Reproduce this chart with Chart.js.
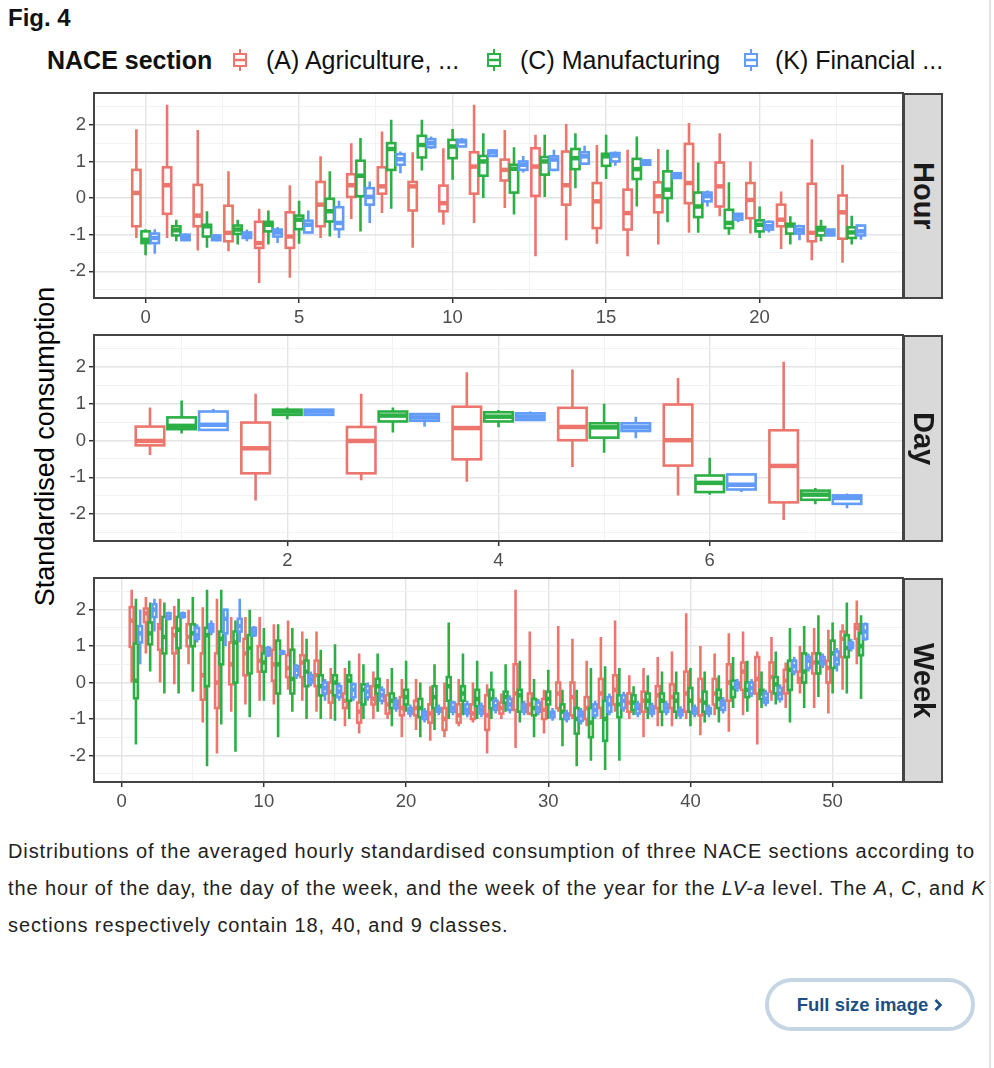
<!DOCTYPE html>
<html>
<head>
<meta charset="utf-8">
<script src="https://cdn.jsdelivr.net/npm/chart.js@4.4.1/dist/chart.umd.min.js"></script>
<style>
  html, body { margin: 0; padding: 0; background: #fff; }
  #page { position: relative; width: 994px; height: 1068px; overflow: hidden; font-family: "Liberation Sans", Arial, sans-serif; color: #222; }
  .abs { position: absolute; }
  .figtitle { left: 8px; top: 4px; font-size: 24px; font-weight: bold; color: #111; }
  .legend { left: 47px; top: 44px; height: 32px; font-size: 25px; color: #111; white-space: nowrap; }
  .legend span, .legend svg { position: absolute; top: 0; line-height: 32px; }
  .legend svg { top: 5px; }
  .ytitle { width: 420px; left: -165px; top: 431px; text-align: center; font-size: 27px; color: #000; transform: rotate(-90deg); white-space: nowrap; }
  .panel { left: 0; width: 910px; }
  .strip { left: 903px; width: 40px; background: #d9d9d9; border: 2px solid #444; box-sizing: border-box; display: flex; align-items: center; justify-content: center; }
  .strip span { writing-mode: vertical-rl; font-size: 29px; font-weight: bold; color: #1a1a1a; }
  .caption { left: 8px; top: 833px; font-size: 20px; line-height: 37px; color: #222; white-space: nowrap; letter-spacing: 0.88px; }
  .btn { left: 765px; top: 978px; width: 210px; height: 53px; box-sizing: border-box; border: 4px solid #c6d5e3; border-radius: 27px; display: flex; align-items: center; justify-content: center; font-size: 18.5px; font-weight: bold; color: #1d4f85; }
  .edge { left: 989px; top: 0; width: 2px; height: 1068px; background: #e3e3e3; }
</style>
</head>
<body>
<div id="page">
  <div class="abs figtitle">Fig. 4</div>
  <div class="abs legend" id="legend"></div>
  <div class="abs ytitle">Standardised consumption</div>

  <div class="abs panel" style="top:88px;height:237px"><canvas id="cHour"></canvas></div>
  <div class="abs panel" style="top:330px;height:238px"><canvas id="cDay"></canvas></div>
  <div class="abs panel" style="top:573px;height:236px"><canvas id="cWeek"></canvas></div>

  <div class="abs strip" style="top:93px;height:206px"><span>Hour</span></div>
  <div class="abs strip" style="top:335px;height:207px"><span>Day</span></div>
  <div class="abs strip" style="top:578px;height:205px"><span>Week</span></div>

  <div class="abs caption">Distributions of the averaged hourly standardised consumption of three NACE sections according to<br>the hour of the day, the day of the week, and the week of the year for the <i>LV-a</i> level. The <i>A</i>, <i>C</i>, and <i>K</i><br>sections respectively contain 18, 40, and 9 classes.</div>
  <div class="abs btn">Full size image&nbsp;<svg width="10" height="14" viewBox="0 0 10 14"><polyline points="2.5,2 7.5,7 2.5,12" fill="none" stroke="#1d4f85" stroke-width="2.6"/></svg></div>
  <div class="abs edge"></div>
</div>

<script>
// NACE sections (legend)
const sections = ['(A) Agriculture, ...', '(C) Manufacturing', '(K) Financial ...'];
const colors = ['#EC766D', '#2CAF44', '#629CF8'];

// categories
const hours = [0, 1, 2, 3, 4, 5, 6, 7, 8, 9, 10, 11, 12, 13, 14, 15, 16, 17, 18, 19, 20, 21, 22, 23];
const days = [1, 2, 3, 4, 5, 6, 7];
const weeks = [1, 2, 3, 4, 5, 6, 7, 8, 9, 10, 11, 12, 13, 14, 15, 16, 17, 18, 19, 20, 21, 22, 23, 24, 25, 26,
  27, 28, 29, 30, 31, 32, 33, 34, 35, 36, 37, 38, 39, 40, 41, 42, 43, 44, 45, 46, 47, 48, 49, 50, 51, 52];

// tick labels
const hourTicks = [0, 5, 10, 15, 20];
const dayTicks = [2, 4, 6];
const weekTicks = [0, 10, 20, 30, 40, 50];
const yTicks = [-2, -1, 0, 1, 2];

// box stats per category: [min, q1, median, q3, max]
const hourA = [
  [-1.09, -0.77, 0.14, 0.77, 1.88], [-1.09, -0.43, 0.35, 0.84, 2.55], [-1.43, -0.77, -0.48, 0.36, 1.86],
  [-1.45, -1.18, -0.95, -0.21, 0.73], [-2.32, -1.36, -1.23, -0.65, -0.29], [-2.18, -1.36, -1.05, -0.39, 0.35],
  [-1.09, -0.77, -0.18, 0.44, 1.14], [-0.57, 0.03, 0.35, 0.65, 1.5], [-0.41, 0.12, 0.32, 0.84, 1.82],
  [-1.36, -0.34, 0.32, 0.44, 1.25], [-0.73, -0.36, -0.14, 0.34, 1.36], [-0.68, 0.12, 0.86, 1.25, 2.55],
  [-0.27, 0.48, 0.77, 1.05, 1.86], [-1.59, 0.06, 0.86, 1.36, 1.73], [-1.15, -0.18, 0.35, 1.27, 2.02],
  [-1.25, -0.82, -0.09, 0.41, 1.45], [-1.59, -0.86, -0.41, 0.23, 1.32], [-1.27, -0.39, 0.05, 0.43, 1.34],
  [-0.95, -0.14, 0.41, 1.48, 2.05], [-0.5, -0.23, 0.32, 0.97, 1.77], [-0.97, -0.55, -0.05, 0.41, 1.0],
  [-1.39, -0.77, -0.59, -0.18, 0.18], [-1.7, -1.18, -0.95, 0.39, 1.61], [-1.77, -1.11, -0.39, 0.07, 0.91]
];
const hourC = [
  [-1.56, -1.23, -1.14, -0.91, -0.85], [-1.18, -1.02, -0.88, -0.77, -0.59], [-1.36, -1.05, -0.77, -0.73, -0.36],
  [-1.27, -0.98, -0.86, -0.75, -0.59], [-1.27, -0.91, -0.73, -0.65, -0.34], [-1.25, -0.85, -0.59, -0.48, -0.07],
  [-1.05, -0.64, -0.36, -0.02, 0.73], [-0.91, 0.05, 0.61, 1.02, 1.64], [-0.29, 0.77, 1.34, 1.5, 2.14],
  [0.75, 1.11, 1.45, 1.7, 2.14], [0.5, 1.09, 1.41, 1.59, 1.89], [0.0, 0.61, 1.0, 1.15, 1.77],
  [-0.45, 0.15, 0.8, 0.91, 1.39], [0.03, 0.64, 1.0, 1.12, 1.73], [0.27, 0.79, 1.09, 1.34, 1.77],
  [0.52, 0.88, 1.14, 1.21, 1.73], [-0.23, 0.52, 0.79, 1.07, 1.68], [-0.66, 0.0, 0.23, 0.73, 1.32],
  [-0.95, -0.52, -0.23, 0.15, 0.97], [-1.0, -0.82, -0.68, -0.32, 0.43], [-1.09, -0.91, -0.73, -0.61, -0.23],
  [-1.27, -0.97, -0.75, -0.7, -0.5], [-1.18, -1.02, -0.86, -0.79, -0.59], [-1.27, -1.09, -0.94, -0.8, -0.48]
];
const hourK = [
  [-1.52, -1.23, -1.09, -0.97, -0.85], [-1.18, -1.15, -1.06, -1.0, -0.97], [-1.18, -1.15, -1.1, -1.02, -1.0],
  [-1.18, -1.09, -1.02, -0.94, -0.86], [-1.23, -1.05, -0.94, -0.86, -0.79], [-0.97, -0.94, -0.73, -0.62, -0.34],
  [-1.09, -0.85, -0.68, -0.25, -0.07], [-0.68, -0.18, 0.03, 0.27, 0.45], [0.68, 0.91, 1.06, 1.2, 1.27],
  [1.34, 1.39, 1.5, 1.61, 1.68], [1.39, 1.41, 1.55, 1.59, 1.64], [1.14, 1.15, 1.25, 1.3, 1.34],
  [0.7, 0.77, 0.91, 1.0, 1.15], [0.73, 0.77, 1.05, 1.14, 1.32], [0.91, 0.94, 1.14, 1.25, 1.43],
  [0.88, 1.0, 1.16, 1.23, 1.27], [0.9, 0.91, 0.97, 1.03, 1.05], [0.52, 0.55, 0.61, 0.68, 0.7],
  [-0.23, -0.09, 0.05, 0.15, 0.21], [-0.66, -0.59, -0.5, -0.43, -0.41], [-0.94, -0.86, -0.77, -0.65, -0.61],
  [-1.15, -0.97, -0.88, -0.77, -0.73], [-1.05, -1.02, -0.94, -0.86, -0.86], [-1.14, -1.02, -0.91, -0.75, -0.73]
];

const dayA = [
  [-0.39, -0.13, -0.01, 0.38, 0.9], [-1.63, -0.89, -0.21, 0.49, 1.27], [-1.08, -0.89, -0.01, 0.37, 1.27],
  [-1.12, -0.51, 0.34, 0.92, 1.86], [-0.72, 0.01, 0.37, 0.89, 1.93], [-1.49, -0.68, 0.01, 0.98, 1.7],
  [-2.16, -1.68, -0.69, 0.28, 2.14]
];
const dayC = [
  [0.19, 0.31, 0.4, 0.63, 1.09], [0.58, 0.7, 0.79, 0.84, 0.9], [0.22, 0.52, 0.68, 0.79, 0.9],
  [0.36, 0.52, 0.65, 0.77, 0.83], [-0.33, 0.08, 0.36, 0.47, 1.0], [-1.47, -1.4, -1.15, -0.95, -0.47],
  [-1.73, -1.61, -1.47, -1.36, -1.29]
];
const dayK = [
  [0.26, 0.29, 0.43, 0.79, 0.86], [0.69, 0.7, 0.79, 0.84, 0.86], [0.38, 0.54, 0.63, 0.72, 0.72],
  [0.54, 0.56, 0.65, 0.74, 0.79], [0.06, 0.26, 0.36, 0.47, 0.65], [-1.4, -1.33, -1.2, -0.92, -0.92],
  [-1.84, -1.72, -1.56, -1.49, -1.44]
];

const weekA = [
  [0.0, 0.98, 1.7, 2.07, 2.55], [0.8, 1.66, 1.9, 2.03, 2.35], [0.0, 0.9, 1.5, 1.6, 2.3], [-0.05, 0.8, 1.3, 1.5, 2.1],
  [0.5, 1.0, 1.25, 1.6, 2.0], [-1.1, -0.47, 0.2, 0.8, 2.07], [-1.95, -0.7, 0.0, 0.8, 2.3], [-0.8, -0.05, 0.5, 1.1, 1.8],
  [-0.6, 0.2, 0.8, 1.2, 1.8], [-0.5, 0.3, 0.6, 1.0, 1.8], [-0.6, 0.05, 0.5, 0.9, 1.6], [-0.2, 0.15, 0.4, 0.75, 1.7],
  [-0.5, 0.15, 0.55, 0.75, 1.4], [-0.8, -0.1, 0.2, 0.6, 1.4], [-1.0, -0.55, -0.25, 0.0, 0.4], [-1.2, -0.7, -0.5, -0.3, 0.4],
  [-1.4, -1.1, -0.8, -0.55, 0.8], [-1.0, -0.6, -0.45, -0.1, 0.3], [-1.0, -0.85, -0.6, -0.35, 0.1], [-1.5, -0.9, -0.7, -0.4, 0.1],
  [-1.3, -0.9, -0.7, -0.5, 0.1], [-1.6, -1.1, -0.85, -0.6, -0.1], [-1.5, -1.3, -1.0, -0.7, 0.0], [-1.2, -1.1, -0.9, -0.6, 0.1],
  [-1.1, -1.0, -0.85, -0.6, 0.0], [-1.95, -1.3, -0.9, -0.35, -0.05], [-1.0, -0.85, -0.7, -0.55, -0.3], [-1.8, -0.75, -0.3, 0.5, 2.55],
  [-0.9, -0.85, -0.6, -0.3, 1.4], [-1.4, -1.0, -0.75, -0.45, -0.2], [-0.8, -0.7, -0.3, 0.0, 1.55], [-1.0, -0.9, -0.4, 0.0, 1.2],
  [-1.2, -1.0, -0.7, -0.4, 0.6], [-1.0, -0.7, -0.3, 0.1, 1.25], [-0.8, -0.6, -0.2, 0.2, 1.7], [-1.0, -0.8, -0.55, -0.3, 0.2],
  [-1.5, -0.8, -0.5, -0.25, 0.4], [-1.2, -0.7, -0.35, -0.1, 0.7], [-1.2, -0.7, -0.4, -0.05, 0.85], [-1.0, -0.8, -0.3, 0.3, 1.9],
  [-1.45, -0.9, -0.5, 0.1, 1.0], [-0.9, -0.6, -0.3, 0.1, 0.8], [-1.35, -0.5, 0.0, 0.5, 1.35], [-0.9, -0.2, 0.3, 0.55, 1.4],
  [-1.7, -0.3, 0.1, 0.7, 0.85], [-0.5, -0.25, 0.15, 0.55, 1.25], [-0.7, -0.3, 0.05, 0.35, 0.55], [-0.3, 0.0, 0.1, 0.3, 1.0],
  [-0.7, 0.25, 0.55, 0.8, 1.5], [-0.85, 0.0, 0.4, 0.6, 1.45], [-0.2, 0.7, 1.2, 1.4, 1.6], [0.5, 1.2, 1.5, 1.6, 2.25]
];
const weekC = [
  [-1.7, -0.43, 0.05, 1.07, 2.3], [0.3, 1.05, 1.35, 1.65, 2.2], [-0.3, 0.8, 1.25, 1.8, 2.2], [-0.3, 0.95, 1.45, 1.8, 2.3],
  [-0.25, 1.0, 1.35, 1.6, 2.35], [-2.3, -0.1, 1.3, 1.5, 2.55], [-1.15, 0.5, 1.2, 1.4, 2.55], [-1.9, 0.0, 1.1, 1.4, 1.7],
  [-0.95, 0.25, 0.95, 1.3, 2.0], [-0.5, 0.3, 0.55, 0.8, 1.5], [-1.5, -0.3, 0.5, 1.15, 1.6], [-0.8, -0.3, 0.1, 0.9, 1.5],
  [-1.0, -0.1, 0.3, 0.6, 1.2], [-1.0, -0.35, -0.1, 0.2, 0.9], [-1.05, -0.35, 0.0, 0.2, 1.05], [-1.0, -0.5, 0.05, 0.2, 0.6],
  [-1.0, -0.6, -0.2, -0.05, 0.5], [-0.8, -0.3, -0.1, 0.1, 0.8], [-1.2, -0.7, -0.5, -0.3, 0.4], [-0.8, -0.6, -0.4, -0.2, 0.6],
  [-1.5, -0.95, -0.7, -0.45, 0.0], [-1.3, -0.7, -0.4, -0.1, 0.5], [-1.0, -0.5, -0.1, 0.15, 1.65], [-0.9, -0.5, -0.3, -0.1, 0.8],
  [-1.0, -0.65, -0.45, -0.2, 0.6], [-1.0, -0.7, -0.45, -0.2, 0.3], [-0.8, -0.55, -0.4, -0.25, 0.5], [-1.1, -0.8, -0.35, -0.2, 0.6],
  [-1.5, -0.9, -0.7, -0.45, 0.1], [-1.0, -0.6, -0.45, -0.25, 0.35], [-1.75, -1.0, -0.8, -0.6, -0.2], [-2.3, -1.4, -1.0, -0.7, -0.2],
  [-2.15, -1.5, -1.1, -0.7, 0.4], [-2.4, -1.6, -1.0, -0.5, 0.45], [-2.15, -0.95, -0.6, -0.35, 0.4], [-0.9, -0.75, -0.55, -0.35, -0.1],
  [-1.0, -0.7, -0.5, -0.3, 0.2], [-1.2, -0.8, -0.5, -0.3, 0.3], [-1.0, -0.8, -0.5, -0.3, 0.3], [-1.2, -0.8, -0.5, -0.15, 0.4],
  [-1.1, -0.8, -0.55, -0.25, 0.3], [-1.1, -0.7, -0.45, -0.2, 0.2], [-0.7, -0.4, -0.15, 0.05, 0.7], [-0.8, -0.4, -0.2, 0.0, 0.6],
  [-0.7, -0.45, -0.3, -0.2, 0.3], [-0.6, -0.3, -0.05, 0.15, 0.85], [-1.1, -0.2, 0.35, 0.6, 1.5], [-0.7, 0.0, 0.3, 0.8, 1.55],
  [-0.4, 0.25, 0.55, 0.8, 1.85], [-0.3, 0.4, 0.8, 1.15, 1.65], [-0.3, 0.7, 0.95, 1.3, 2.2], [-0.45, 0.75, 1.0, 1.35, 1.85]
];
const weekK = [
  [0.5, 1.1, 1.35, 1.55, 2.0], [1.4, 1.8, 2.0, 2.15, 2.3], [1.7, 1.75, 1.8, 1.9, 1.95], [1.75, 1.8, 1.85, 1.9, 1.95],
  [1.1, 1.2, 1.3, 1.5, 1.6], [1.3, 1.4, 1.5, 1.6, 1.7], [1.0, 1.35, 1.75, 2.0, 2.0], [1.1, 1.4, 1.55, 1.75, 2.3],
  [1.25, 1.3, 1.4, 1.5, 1.55], [0.7, 0.75, 0.85, 0.95, 1.0], [0.75, 0.8, 0.82, 0.85, 0.9], [0.1, 0.2, 0.35, 0.45, 0.5],
  [-0.1, 0.0, 0.1, 0.2, 0.3], [-0.5, -0.3, -0.15, 0.0, 0.1], [-0.5, -0.4, -0.25, -0.1, 0.0], [-0.5, -0.4, -0.2, -0.05, 0.0],
  [-0.5, -0.4, -0.25, -0.1, 0.0], [-0.6, -0.5, -0.35, -0.2, -0.1], [-0.8, -0.7, -0.6, -0.5, -0.4], [-0.95, -0.85, -0.75, -0.7, -0.6],
  [-1.1, -1.0, -0.9, -0.8, -0.7], [-0.9, -0.8, -0.75, -0.7, -0.6], [-0.9, -0.8, -0.7, -0.55, -0.5], [-0.95, -0.85, -0.75, -0.6, -0.5],
  [-0.95, -0.85, -0.75, -0.65, -0.55], [-0.85, -0.75, -0.65, -0.5, -0.4], [-0.85, -0.75, -0.6, -0.45, -0.35], [-0.9, -0.8, -0.7, -0.6, -0.5],
  [-0.9, -0.8, -0.7, -0.55, -0.45], [-1.05, -0.95, -0.85, -0.8, -0.7], [-1.1, -1.0, -0.9, -0.85, -0.75], [-1.15, -1.05, -0.9, -0.8, -0.7],
  [-1.0, -0.9, -0.75, -0.6, -0.5], [-0.9, -0.8, -0.6, -0.4, -0.3], [-0.8, -0.7, -0.5, -0.35, -0.25], [-0.95, -0.85, -0.7, -0.6, -0.5],
  [-0.95, -0.85, -0.75, -0.65, -0.55], [-0.9, -0.8, -0.7, -0.6, -0.5], [-1.0, -0.9, -0.8, -0.75, -0.65], [-0.95, -0.85, -0.75, -0.7, -0.6],
  [-0.95, -0.85, -0.75, -0.7, -0.6], [-0.85, -0.75, -0.6, -0.5, -0.4], [-0.25, -0.15, -0.05, 0.0, 0.1], [-0.4, -0.3, -0.15, 0.0, 0.1],
  [-0.65, -0.55, -0.45, -0.3, -0.2], [-0.55, -0.45, -0.3, -0.15, -0.05], [0.2, 0.3, 0.45, 0.6, 0.7], [0.3, 0.4, 0.6, 0.7, 0.8],
  [0.4, 0.5, 0.6, 0.7, 0.8], [0.3, 0.5, 0.65, 0.85, 0.95], [0.85, 0.95, 1.0, 1.1, 1.2], [1.15, 1.2, 1.4, 1.6, 1.65]
];

const FONT = '"Liberation Sans", Arial, sans-serif';
const DODGE = [-0.3, 0, 0.3];   // ggplot dodge per section
const HALF = 0.135;             // half box width (x units)

// legend, built in html with small boxplot keys
const legendEl = document.getElementById('legend');
const legendPos = [[185, 219], [439, 473], [696, 728]];
legendEl.innerHTML = '<span style="left:0;font-weight:bold">NACE section</span>' + sections.map((s, i) =>
  `<svg style="left:${legendPos[i][0]}px" width="16" height="22"><line x1="8" y1="0" x2="8" y2="22" stroke="${colors[i]}" stroke-width="2"/>` +
  `<rect x="2" y="5" width="12" height="12" fill="#fff" stroke="${colors[i]}" stroke-width="2"/>` +
  `<line x1="2" y1="11" x2="14" y2="11" stroke="${colors[i]}" stroke-width="2.5"/></svg>` +
  `<span style="left:${legendPos[i][1]}px">${s}</span>`).join('');

// draws every box through the chart's own x/y scales
const boxplotPlugin = {
  id: 'boxplots',
  afterDatasetsDraw(chart) {
    const { ctx, chartArea: a, scales: { x, y } } = chart;
    ctx.save();
    ctx.beginPath();
    ctx.rect(a.left, a.top, a.right - a.left, a.bottom - a.top);
    ctx.clip();
    const n = chart.data.datasets[0].data.length;
    for (let i = 0; i < n; i++) {
      chart.data.datasets.forEach(ds => {
        const p = ds.data[i];
        const [mn, q1, md, q3, mx] = p.stats;
        const cx = x.getPixelForValue(p.x);
        const hw = Math.abs(x.getPixelForValue(p.x + HALF) - cx);
        ctx.strokeStyle = ds.borderColor;
        ctx.lineWidth = 2.6;
        ctx.beginPath();
        ctx.moveTo(cx, y.getPixelForValue(mx));
        ctx.lineTo(cx, y.getPixelForValue(q3));
        ctx.moveTo(cx, y.getPixelForValue(q1));
        ctx.lineTo(cx, y.getPixelForValue(mn));
        ctx.stroke();
        const top = y.getPixelForValue(q3), bot = y.getPixelForValue(q1);
        ctx.fillStyle = '#fff';
        ctx.fillRect(cx - hw, top, hw * 2, bot - top);
        ctx.strokeRect(cx - hw, top, hw * 2, bot - top);
        ctx.lineWidth = 4.5;
        ctx.beginPath();
        const ym = y.getPixelForValue(md);
        ctx.moveTo(cx - hw, ym);
        ctx.lineTo(cx + hw, ym);
        ctx.stroke();
      });
    }
    ctx.restore();
  },
  afterDraw(chart) {
    const { ctx, chartArea: a } = chart;
    ctx.save();
    ctx.strokeStyle = '#444';
    ctx.lineWidth = 2;
    ctx.strokeRect(a.left, a.top, a.right - a.left, a.bottom - a.top);
    ctx.restore();
  }
};

// major breaks plus ggplot-style minor breaks halfway between them
function gridValues(majors, min, max) {
  const step = majors.length > 1 ? majors[1] - majors[0] : 1;
  const vals = [];
  majors.forEach(m => { vals.push(m - step / 2, m); });
  vals.push(majors[majors.length - 1] + step / 2);
  return vals.filter(v => v >= min && v <= max);
}

function gridStyle(majors) {
  return {
    color: c => majors.includes(c.tick.value) ? '#e4e4e4' : '#f0f0f0',
    lineWidth: c => majors.includes(c.tick.value) ? 1.4 : 0.9,
    tickColor: c => majors.includes(c.tick.value) ? '#333' : 'rgba(0,0,0,0)',
    tickLength: 5,
    tickWidth: 1.5,
    drawTicks: true
  };
}

function makeChart(id, xs, series, xMin, xMax, xMajors) {
  const datasets = series.map((stats, k) => ({
    label: sections[k],
    borderColor: colors[k],
    backgroundColor: colors[k],
    pointRadius: 0,
    showLine: false,
    data: xs.map((v, i) => ({ x: v + DODGE[k], y: stats[i][2], stats: stats[i] }))
  }));
  return new Chart(document.getElementById(id), {
    type: 'scatter',
    data: { datasets },
    plugins: [boxplotPlugin],
    options: {
      responsive: true,
      maintainAspectRatio: false,
      animation: false,
      layout: { padding: { top: 5, right: 7, left: 0, bottom: 0 } },
      plugins: { legend: { display: false }, tooltip: { enabled: false } },
      scales: {
        x: {
          type: 'linear', min: xMin, max: xMax,
          afterBuildTicks: s => { s.ticks = gridValues(xMajors, xMin, xMax).map(v => ({ value: v })); },
          afterFit: s => { s.height = 27; s.paddingLeft = 0; s.paddingRight = 0; },
          grid: gridStyle(xMajors),
          border: { display: false },
          ticks: {
            autoSkip: false, maxRotation: 0, padding: 4, color: '#4d4d4d',
            font: { family: FONT, size: 18.5 },
            callback: v => xMajors.includes(v) ? String(v) : ''
          }
        },
        y: {
          type: 'linear', min: -2.73, max: 2.87,
          afterBuildTicks: s => { s.ticks = gridValues(yTicks, -2.73, 2.87).map(v => ({ value: v })); },
          afterFit: s => { s.width = 94; s.paddingTop = 0; s.paddingBottom = 0; },
          grid: gridStyle(yTicks),
          border: { display: false },
          ticks: {
            autoSkip: false, padding: 3, color: '#4d4d4d',
            font: { family: FONT, size: 18.5 },
            callback: v => yTicks.includes(v) ? String(v) : ''
          }
        }
      }
    }
  });
}

makeChart('cHour', hours, [hourA, hourC, hourK], -1.68, 24.67, hourTicks);
makeChart('cDay', days, [dayA, dayC, dayK], 0.17, 7.83, dayTicks);
makeChart('cWeek', weeks, [weekA, weekC, weekK], -1.95, 54.95, weekTicks);
</script>
</body>
</html>
